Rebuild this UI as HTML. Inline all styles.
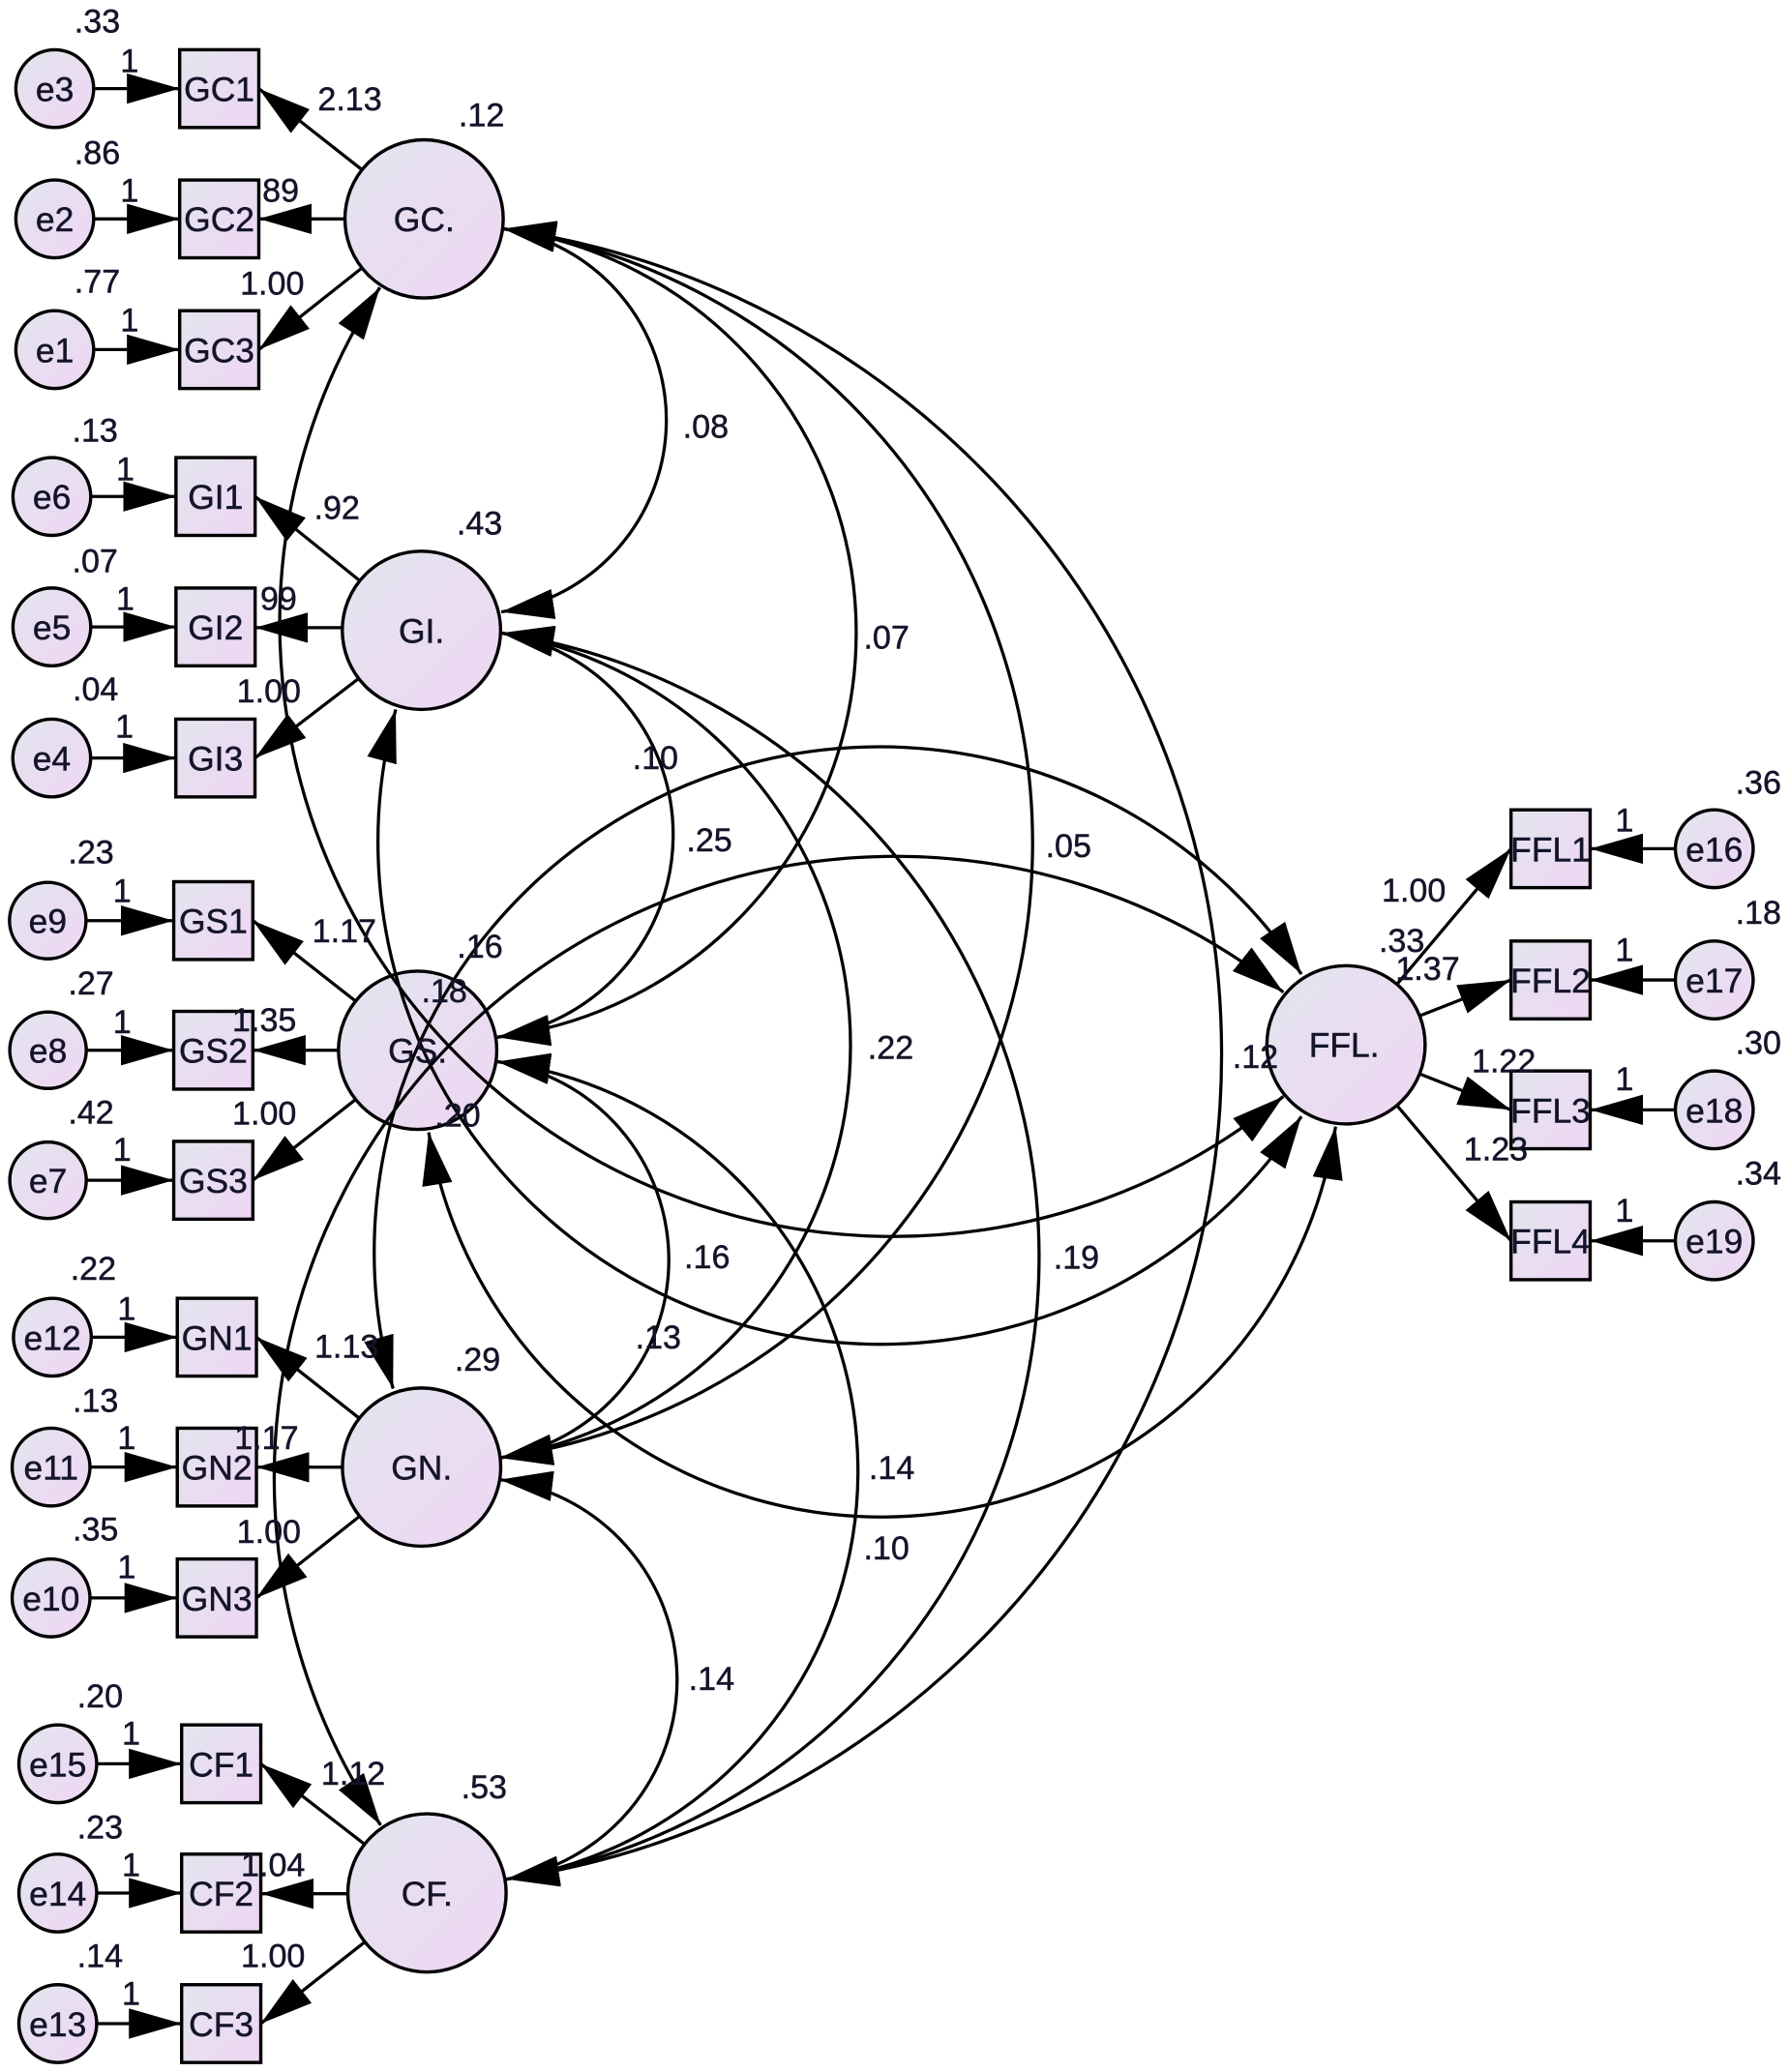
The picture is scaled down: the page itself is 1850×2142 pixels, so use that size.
<!DOCTYPE html>
<html>
<head>
<meta charset="utf-8">
<style>
html,body{margin:0;padding:0;background:#fff;overflow:hidden;}
svg{display:block;}
text{font-family:"Liberation Sans",Arial,sans-serif;font-size:25px;fill:#14142a;stroke:#14142a;stroke-width:0.35;text-anchor:middle;}
.n text{font-size:26px;}
</style>
</head>
<body>
<svg width="1850" height="2142" viewBox="0 0 1357 1571.2" xmlns="http://www.w3.org/2000/svg">
<defs>
<linearGradient id="g" x1="0" y1="0" x2="1" y2="1">
<stop offset="0" stop-color="#e3e5ee"/>
<stop offset="1" stop-color="#eed6f3"/>
</linearGradient>
<marker id="a" viewBox="0 0 40 23" refX="40" refY="11.5" markerWidth="40" markerHeight="23" markerUnits="userSpaceOnUse" orient="auto-start-reverse">
<path d="M0,0L40,11.5L0,23z" fill="#000"/>
</marker>
</defs>

<!-- nodes -->
<g fill="url(#g)" stroke="#000" stroke-width="2.5">
<circle cx="321.5" cy="166" r="60"/>
<circle cx="319.5" cy="478" r="60"/>
<circle cx="316.6" cy="796.4" r="60"/>
<circle cx="319.6" cy="1112.5" r="60"/>
<circle cx="323.7" cy="1435.4" r="60"/>
<circle cx="1020.4" cy="792.3" r="60"/>
<circle cx="41.5" cy="67.2" r="29.5"/>
<circle cx="41.5" cy="166" r="29.5"/>
<circle cx="41.5" cy="265.1" r="29.5"/>
<circle cx="39.3" cy="376.5" r="29.5"/>
<circle cx="39.3" cy="475.4" r="29.5"/>
<circle cx="39.2" cy="574.8" r="29.5"/>
<circle cx="36.2" cy="698.1" r="29"/>
<circle cx="36.4" cy="796.4" r="29"/>
<circle cx="36.4" cy="895" r="29"/>
<circle cx="39.7" cy="1014" r="29.5"/>
<circle cx="38.7" cy="1112.5" r="29.5"/>
<circle cx="38.7" cy="1211.7" r="29.5"/>
<circle cx="43.8" cy="1337.5" r="29.5"/>
<circle cx="43.8" cy="1435.5" r="29.5"/>
<circle cx="43.8" cy="1534.5" r="29.5"/>
<circle cx="1299.6" cy="643.6" r="29.5"/>
<circle cx="1299.6" cy="743.1" r="29.5"/>
<circle cx="1299.6" cy="841.6" r="29.5"/>
<circle cx="1299.6" cy="940.9" r="29.5"/>
<rect x="136.2" y="37.7" width="60" height="59"/>
<rect x="136.2" y="136.5" width="60" height="59"/>
<rect x="136.2" y="235.6" width="60" height="59"/>
<rect x="133.4" y="347" width="60" height="59"/>
<rect x="133.4" y="445.9" width="60" height="59"/>
<rect x="133.3" y="545.3" width="60" height="59"/>
<rect x="131.7" y="668.6" width="60" height="59"/>
<rect x="131.7" y="766.9" width="60" height="59"/>
<rect x="131.7" y="865.5" width="60" height="59"/>
<rect x="134.4" y="984.5" width="60" height="59"/>
<rect x="134.4" y="1083" width="60" height="59"/>
<rect x="134.4" y="1182.2" width="60" height="59"/>
<rect x="137.7" y="1308" width="60" height="59"/>
<rect x="137.7" y="1406" width="60" height="59"/>
<rect x="137.7" y="1505" width="60" height="59"/>
<rect x="1145.5" y="614.1" width="60" height="59"/>
<rect x="1145.5" y="713.6" width="60" height="59"/>
<rect x="1145.5" y="812.1" width="60" height="59"/>
<rect x="1145.5" y="911.4" width="60" height="59"/>
</g>

<!-- straight arrows -->
<g fill="none" stroke="#000" stroke-width="2.4" marker-end="url(#a)">
<path d="M71,67.2H136.2"/>
<path d="M71,166H136.2"/>
<path d="M71,265.1H136.2"/>
<path d="M68.8,376.5H133.4"/>
<path d="M68.8,475.4H133.4"/>
<path d="M68.7,574.8H133.3"/>
<path d="M65.2,698.1H131.7"/>
<path d="M65.4,796.4H131.7"/>
<path d="M65.4,895H131.7"/>
<path d="M69.2,1014H134.4"/>
<path d="M68.2,1112.5H134.4"/>
<path d="M68.2,1211.7H134.4"/>
<path d="M73.3,1337.5H137.7"/>
<path d="M73.3,1435.5H137.7"/>
<path d="M73.3,1534.5H137.7"/>
<path d="M1270.1,643.6H1205.5"/>
<path d="M1270.1,743.1H1205.5"/>
<path d="M1270.1,841.6H1205.5"/>
<path d="M1270.1,940.9H1205.5"/>
<path d="M274.5,128.8L196.2,67.2"/>
<path d="M261.5,166L196.2,166"/>
<path d="M274.4,203.2L196.2,265.1"/>
<path d="M272.8,440.4L193.4,376.5"/>
<path d="M259.5,476L193.4,476"/>
<path d="M271.9,514.5L193.3,574.8"/>
<path d="M269.6,759.2L191.7,698.1"/>
<path d="M256.6,796.4L191.7,796.4"/>
<path d="M269.6,833.7L191.7,895"/>
<path d="M272.4,1075.5L194.4,1014"/>
<path d="M259.6,1112.6L194.4,1112.6"/>
<path d="M272.6,1149.8L194.4,1211.7"/>
<path d="M276.4,1398.5L197.7,1337.5"/>
<path d="M263.7,1436L197.7,1436"/>
<path d="M276.6,1472.6L197.7,1534.5"/>
<path d="M1059,746.4L1145.5,643.6"/>
<path d="M1076.3,770.3L1145.5,743.1"/>
<path d="M1076.2,814.3L1145.5,841.6"/>
<path d="M1059,838.2L1145.5,940.9"/>
</g>

<!-- covariance arcs -->
<g fill="none" stroke="#000" stroke-width="2.4" marker-start="url(#a)" marker-end="url(#a)">
<path d="M381.5,173.5A147,147 0 0 1 380,464"/>
<path d="M381.5,173.5A309,309 0 0 1 377,786.5"/>
<path d="M381.5,173.5A471,471 0 0 1 379,1105.5"/>
<path d="M381.5,173.5A632,632 0 0 1 384,1425"/>
<path d="M380,480A155,155 0 0 1 377,786.5"/>
<path d="M380,480A317,317 0 0 1 379,1105.5"/>
<path d="M380,480A478,478 0 0 1 384,1425"/>
<path d="M377,805A152,152 0 0 1 379,1105.5"/>
<path d="M377,805A313,313 0 0 1 384,1425"/>
<path d="M379,1122A153,153 0 0 1 384,1425"/>
<path d="M288,218A465,465 0 0 0 972.9,831.4"/>
<path d="M300,538A381,381 0 0 0 986.6,846.6"/>
<path d="M325,858.7A348,348 0 0 0 1012.5,854.3"/>
<path d="M298,1053A383,383 0 0 1 986.6,738.7"/>
<path d="M288.6,1384A471,471 0 0 1 972.9,752.4"/>
</g>

<!-- node labels -->
<g class="n">
<text x="321.5" y="175.5">GC.</text>
<text x="319.5" y="487.5">GI.</text>
<text x="316.6" y="805.9">GS.</text>
<text x="319.6" y="1122">GN.</text>
<text x="323.7" y="1444.9">CF.</text>
<text x="1019" y="801.5">FFL.</text>
<text x="41.5" y="76.7">e3</text>
<text x="41.5" y="175.5">e2</text>
<text x="41.5" y="274.6">e1</text>
<text x="39.3" y="386">e6</text>
<text x="39.3" y="484.9">e5</text>
<text x="39.2" y="584.3">e4</text>
<text x="36.2" y="707.6">e9</text>
<text x="36.4" y="805.9">e8</text>
<text x="36.4" y="904.5">e7</text>
<text x="39.7" y="1023.5">e12</text>
<text x="38.7" y="1122">e11</text>
<text x="38.7" y="1221.2">e10</text>
<text x="43.8" y="1347">e15</text>
<text x="43.8" y="1445">e14</text>
<text x="43.8" y="1544">e13</text>
<text x="1299.6" y="653.1">e16</text>
<text x="1299.6" y="752.6">e17</text>
<text x="1299.6" y="851.1">e18</text>
<text x="1299.6" y="950.4">e19</text>
<text x="166.2" y="76.7">GC1</text>
<text x="166.2" y="175.5">GC2</text>
<text x="166.2" y="274.6">GC3</text>
<text x="163.4" y="386">GI1</text>
<text x="163.4" y="484.9">GI2</text>
<text x="163.3" y="584.3">GI3</text>
<text x="161.7" y="707.6">GS1</text>
<text x="161.7" y="805.9">GS2</text>
<text x="161.7" y="904.5">GS3</text>
<text x="164.4" y="1023.5">GN1</text>
<text x="164.4" y="1122">GN2</text>
<text x="164.4" y="1221.2">GN3</text>
<text x="167.7" y="1347">CF1</text>
<text x="167.7" y="1445">CF2</text>
<text x="167.7" y="1544">CF3</text>
<text x="1175.5" y="653.1">FFL1</text>
<text x="1175.5" y="752.6">FFL2</text>
<text x="1175.5" y="851.1">FFL3</text>
<text x="1175.5" y="950.4">FFL4</text>
</g>

<!-- parameter labels -->
<g>
<text x="73.7" y="24.7">.33</text>
<text x="73.7" y="124.3">.86</text>
<text x="73.7" y="221.8">.77</text>
<text x="72" y="334.8">.13</text>
<text x="72" y="434">.07</text>
<text x="72.4" y="530.9">.04</text>
<text x="69" y="654.5">.23</text>
<text x="69" y="754.2">.27</text>
<text x="69" y="851.9">.42</text>
<text x="70.7" y="970.5">.22</text>
<text x="72.4" y="1070.5">.13</text>
<text x="72.4" y="1168.2">.35</text>
<text x="75.8" y="1294.5">.20</text>
<text x="75.8" y="1393.9">.23</text>
<text x="75.8" y="1491.5">.14</text>
<text x="1333" y="601.7">.36</text>
<text x="1333" y="700.5">.18</text>
<text x="1333" y="799.3">.30</text>
<text x="1333" y="898.2">.34</text>
<text x="98.2" y="54.8">1</text>
<text x="98.2" y="153">1</text>
<text x="98.2" y="251.3">1</text>
<text x="95" y="364.3">1</text>
<text x="95" y="462.5">1</text>
<text x="94.3" y="559.5">1</text>
<text x="92.6" y="684.2">1</text>
<text x="92.6" y="783.5">1</text>
<text x="92.6" y="880.2">1</text>
<text x="96" y="1000.8">1</text>
<text x="96" y="1099">1</text>
<text x="96" y="1196.8">1</text>
<text x="99.4" y="1323">1</text>
<text x="99.4" y="1422.5">1</text>
<text x="99.4" y="1520.2">1</text>
<text x="1231.5" y="630.6">1</text>
<text x="1231.5" y="728.6">1</text>
<text x="1231.5" y="826.8">1</text>
<text x="1231.5" y="926.5">1</text>
<text x="265.2" y="83.7">2.13</text>
<text x="212.8" y="153">89</text>
<text x="206.3" y="223.5">1.00</text>
<text x="255.4" y="393.7">.92</text>
<text x="211.2" y="462.5">99</text>
<text x="203.8" y="532.6">1.00</text>
<text x="261" y="714.5">1.17</text>
<text x="200.4" y="781.8">1.35</text>
<text x="200.4" y="852.6">1.00</text>
<text x="262.7" y="1029.4">1.13</text>
<text x="202" y="1099">1.17</text>
<text x="203.8" y="1169.9">1.00</text>
<text x="267.8" y="1353.4">1.12</text>
<text x="207" y="1422.5">1.04</text>
<text x="207" y="1491.5">1.00</text>
<text x="1071.8" y="683.8">1.00</text>
<text x="1082.3" y="743">1.37</text>
<text x="1140" y="813">1.22</text>
<text x="1134" y="880">1.23</text>
<text x="365" y="95.8">.12</text>
<text x="363.5" y="405.2">.43</text>
<text x="363.8" y="726.3">.16</text>
<text x="362" y="1039.5">.29</text>
<text x="367" y="1363.5">.53</text>
<text x="1062.6" y="721.8">.33</text>
<text x="535" y="332">.08</text>
<text x="672" y="492">.07</text>
<text x="810" y="650">.05</text>
<text x="951.7" y="810">.12</text>
<text x="537.7" y="645.5">.25</text>
<text x="496.8" y="583">.10</text>
<text x="675.2" y="802.7">.22</text>
<text x="816" y="962">.19</text>
<text x="536" y="961.6">.16</text>
<text x="499" y="1022.5">.13</text>
<text x="676" y="1121.5">.14</text>
<text x="672" y="1182.5">.10</text>
<text x="539.4" y="1281.3">.14</text>
<text x="336.8" y="760">.18</text>
<text x="346.9" y="854.3">.20</text>
</g>
</svg>
</body>
</html>
